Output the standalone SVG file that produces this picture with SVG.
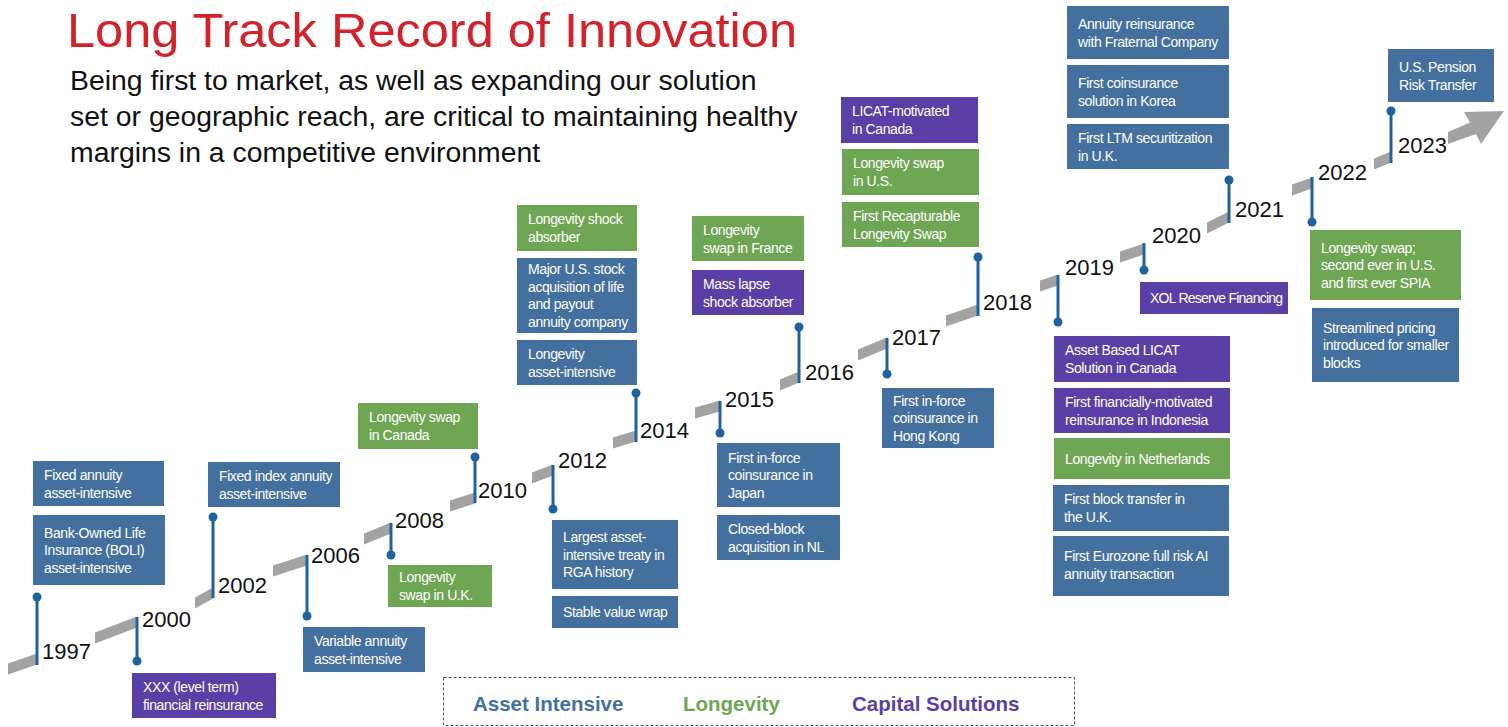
<svg xmlns="http://www.w3.org/2000/svg" width="1508" height="727" viewBox="0 0 1508 727">
<style>
.ba{fill:#44709f}
.gr{fill:#6fa654}
.pu{fill:#5a3fa6}
.bt{font-family:"Liberation Sans",Arial,sans-serif;font-size:14px;fill:#ffffff;letter-spacing:-0.4px}
.yr{font-family:"Liberation Sans",Arial,sans-serif;font-size:22px;fill:#111111}
.seg{fill:#a3a3a3}
.stem{stroke:#1f639e;stroke-width:3}
.dot{fill:#1f639e}
.lg{font-family:"Liberation Sans",Arial,sans-serif;font-size:20.5px;font-weight:bold}
</style>
<rect x="0" y="0" width="1508" height="727" fill="#ffffff"/>
<g id="title">
<text x="67" y="47" font-family="Liberation Sans, Arial, sans-serif" font-size="49" fill="#d3222a" textLength="730" lengthAdjust="spacingAndGlyphs">Long Track Record of Innovation</text>
<g font-family="Liberation Sans, Arial, sans-serif" font-size="28.4" fill="#111111">
<text x="70" y="90">Being first to market, as well as expanding our solution</text>
<text x="70" y="126">set or geographic reach, are critical to maintaining healthy</text>
<text x="70" y="162">margins in a competitive environment</text>
</g>
</g>
<g id="timeline">
<polygon class="seg" points="8,663.5 37,653.5 37,664.5 8,674.5"/>
<polygon class="seg" points="95,632.5 137,616.5 137,627.5 95,643.5"/>
<polygon class="seg" points="195,597.5 213,587.5 213,598.5 195,608.5"/>
<polygon class="seg" points="273,565.5 307,554.5 307,565.5 273,576.5"/>
<polygon class="seg" points="364,533.5 391,522.5 391,533.5 364,544.5"/>
<polygon class="seg" points="450,500.5 475,492.5 475,503.5 450,511.5"/>
<polygon class="seg" points="532,472.5 553,464.5 553,475.5 532,483.5"/>
<polygon class="seg" points="613,437.5 636,430.5 636,441.5 613,448.5"/>
<polygon class="seg" points="695,407.5 720,400.5 720,411.5 695,418.5"/>
<polygon class="seg" points="780,379.5 799,371.5 799,382.5 780,390.5"/>
<polygon class="seg" points="858,349.5 887,337.5 887,348.5 858,360.5"/>
<polygon class="seg" points="946,315.5 978,304.5 978,315.5 946,326.5"/>
<polygon class="seg" points="1040,280.5 1058,274.5 1058,285.5 1040,291.5"/>
<polygon class="seg" points="1120,251.5 1144,243.5 1144,254.5 1120,262.5"/>
<polygon class="seg" points="1207,222.5 1229,211.5 1229,222.5 1207,233.5"/>
<polygon class="seg" points="1292,184.5 1312,177.5 1312,188.5 1292,195.5"/>
<polygon class="seg" points="1374,158.5 1391,151.5 1391,162.5 1374,169.5"/>
<polygon class="seg" points="1448,132 1470,122.5 1464,112 1504,111 1481,144 1476,134 1448,144"/>
<text class="yr" x="42" y="659">1997</text>
<text class="yr" x="142" y="627">2000</text>
<text class="yr" x="218" y="593">2002</text>
<text class="yr" x="311" y="563">2006</text>
<text class="yr" x="395" y="528">2008</text>
<text class="yr" x="478" y="498">2010</text>
<text class="yr" x="558" y="468">2012</text>
<text class="yr" x="640" y="438">2014</text>
<text class="yr" x="725" y="407">2015</text>
<text class="yr" x="805" y="380">2016</text>
<text class="yr" x="892" y="345">2017</text>
<text class="yr" x="983" y="310">2018</text>
<text class="yr" x="1065" y="275">2019</text>
<text class="yr" x="1152" y="243">2020</text>
<text class="yr" x="1235" y="217">2021</text>
<text class="yr" x="1318" y="180">2022</text>
<text class="yr" x="1398" y="153">2023</text>
</g>
<g id="connectors">
<line class="stem" x1="37" y1="597" x2="37" y2="665"/><circle class="dot" cx="37" cy="597" r="4.5"/>
<line class="stem" x1="137" y1="617" x2="137" y2="661"/><circle class="dot" cx="137" cy="661" r="4.5"/>
<line class="stem" x1="213" y1="517" x2="213" y2="598"/><circle class="dot" cx="213" cy="517" r="4.5"/>
<line class="stem" x1="307" y1="555" x2="307" y2="616"/><circle class="dot" cx="307" cy="616" r="4.5"/>
<line class="stem" x1="391" y1="523" x2="391" y2="555"/><circle class="dot" cx="391" cy="555" r="4.5"/>
<line class="stem" x1="475" y1="457" x2="475" y2="503"/><circle class="dot" cx="475" cy="457" r="4.5"/>
<line class="stem" x1="553" y1="465" x2="553" y2="509"/><circle class="dot" cx="553" cy="509" r="4.5"/>
<line class="stem" x1="636" y1="393" x2="636" y2="442"/><circle class="dot" cx="636" cy="393" r="4.5"/>
<line class="stem" x1="720" y1="401" x2="720" y2="433"/><circle class="dot" cx="720" cy="433" r="4.5"/>
<line class="stem" x1="799" y1="327" x2="799" y2="383"/><circle class="dot" cx="799" cy="327" r="4.5"/>
<line class="stem" x1="887" y1="338" x2="887" y2="374"/><circle class="dot" cx="887" cy="374" r="4.5"/>
<line class="stem" x1="978" y1="257" x2="978" y2="316"/><circle class="dot" cx="978" cy="257" r="4.5"/>
<line class="stem" x1="1058" y1="275" x2="1058" y2="322"/><circle class="dot" cx="1058" cy="322" r="4.5"/>
<line class="stem" x1="1144" y1="243" x2="1144" y2="270"/><circle class="dot" cx="1144" cy="270" r="4.5"/>
<line class="stem" x1="1229" y1="180" x2="1229" y2="223"/><circle class="dot" cx="1229" cy="180" r="4.5"/>
<line class="stem" x1="1312" y1="177" x2="1312" y2="222"/><circle class="dot" cx="1312" cy="222" r="4.5"/>
<line class="stem" x1="1391" y1="111" x2="1391" y2="163"/><circle class="dot" cx="1391" cy="111" r="4.5"/>
</g>
<g id="n-fixed-annuity"><rect class="ba" x="33" y="461" width="131" height="45"/><text class="bt"><tspan x="44" y="480">Fixed annuity</tspan><tspan x="44" y="497.5">asset-intensive</tspan></text></g>
<g id="n-boli"><rect class="ba" x="33" y="515" width="132" height="70"/><text class="bt"><tspan x="44" y="537.5">Bank-Owned Life</tspan><tspan x="44" y="555">Insurance (BOLI)</tspan><tspan x="44" y="572.5">asset-intensive</tspan></text></g>
<g id="n-fixed-index"><rect class="ba" x="208" y="462" width="132" height="45"/><text class="bt"><tspan x="219" y="481">Fixed index annuity</tspan><tspan x="219" y="498.5">asset-intensive</tspan></text></g>
<g id="n-xxx"><rect class="pu" x="132" y="673" width="144" height="45"/><text class="bt"><tspan x="143" y="692">XXX (level term)</tspan><tspan x="143" y="709.5">financial reinsurance</tspan></text></g>
<g id="n-variable"><rect class="ba" x="303" y="627" width="122" height="45"/><text class="bt"><tspan x="314" y="646">Variable annuity</tspan><tspan x="314" y="663.5">asset-intensive</tspan></text></g>
<g id="n-longevity-uk"><rect class="gr" x="388" y="565" width="104" height="42"/><text class="bt"><tspan x="399" y="582.25">Longevity</tspan><tspan x="399" y="599.75">swap in U.K.</tspan></text></g>
<g id="n-longevity-canada"><rect class="gr" x="358" y="403" width="120" height="46"/><text class="bt"><tspan x="369" y="422.25">Longevity swap</tspan><tspan x="369" y="439.75">in Canada</tspan></text></g>
<g id="n-largest"><rect class="ba" x="552" y="520" width="126" height="69"/><text class="bt"><tspan x="563" y="542">Largest asset-</tspan><tspan x="563" y="559.5">intensive treaty in</tspan><tspan x="563" y="577">RGA history</tspan></text></g>
<g id="n-stable"><rect class="ba" x="552" y="596" width="126" height="32"/><text class="bt"><tspan x="563" y="617">Stable value wrap</tspan></text></g>
<g id="n-shock"><rect class="gr" x="517" y="205" width="120" height="46"/><text class="bt"><tspan x="528" y="224.25">Longevity shock</tspan><tspan x="528" y="241.75">absorber</tspan></text></g>
<g id="n-major"><rect class="ba" x="517" y="258" width="120" height="75"/><text class="bt"><tspan x="528" y="274.25">Major U.S. stock</tspan><tspan x="528" y="291.75">acquisition of life</tspan><tspan x="528" y="309.25">and payout</tspan><tspan x="528" y="326.75">annuity company</tspan></text></g>
<g id="n-longevity-ai"><rect class="ba" x="517" y="340" width="120" height="45"/><text class="bt"><tspan x="528" y="359">Longevity</tspan><tspan x="528" y="376.5">asset-intensive</tspan></text></g>
<g id="n-france"><rect class="gr" x="692" y="216" width="112" height="45"/><text class="bt"><tspan x="703" y="235">Longevity</tspan><tspan x="703" y="252.5">swap in France</tspan></text></g>
<g id="n-mass-lapse"><rect class="pu" x="692" y="270" width="112" height="45"/><text class="bt"><tspan x="703" y="289">Mass lapse</tspan><tspan x="703" y="306.5">shock absorber</tspan></text></g>
<g id="n-japan"><rect class="ba" x="717" y="443" width="123" height="64"/><text class="bt"><tspan x="728" y="462.5">First in-force</tspan><tspan x="728" y="480">coinsurance in</tspan><tspan x="728" y="497.5">Japan</tspan></text></g>
<g id="n-closed-block"><rect class="ba" x="717" y="515" width="123" height="45"/><text class="bt"><tspan x="728" y="534">Closed-block</tspan><tspan x="728" y="551.5">acquisition  in NL</tspan></text></g>
<g id="n-licat"><rect class="pu" x="841" y="97" width="137" height="46"/><text class="bt"><tspan x="852" y="116.25">LICAT-motivated</tspan><tspan x="852" y="133.75">in Canada</tspan></text></g>
<g id="n-swap-us"><rect class="gr" x="842" y="149" width="137" height="46"/><text class="bt"><tspan x="853" y="168.25">Longevity swap</tspan><tspan x="853" y="185.75">in U.S.</tspan></text></g>
<g id="n-recapturable"><rect class="gr" x="842" y="202" width="137" height="45"/><text class="bt"><tspan x="853" y="221">First Recapturable</tspan><tspan x="853" y="238.5">Longevity Swap</tspan></text></g>
<g id="n-hong-kong"><rect class="ba" x="882" y="388" width="112" height="60"/><text class="bt"><tspan x="893" y="405.5">First in-force</tspan><tspan x="893" y="423">coinsurance in</tspan><tspan x="893" y="440.5">Hong Kong</tspan></text></g>
<g id="n-asset-licat"><rect class="pu" x="1054" y="336" width="176" height="46"/><text class="bt"><tspan x="1065" y="355.25">Asset Based LICAT</tspan><tspan x="1065" y="372.75">Solution in Canada</tspan></text></g>
<g id="n-indonesia"><rect class="pu" x="1054" y="388" width="176" height="45"/><text class="bt"><tspan x="1065" y="407">First financially-motivated</tspan><tspan x="1065" y="424.5">reinsurance in Indonesia</tspan></text></g>
<g id="n-netherlands"><rect class="gr" x="1054" y="438" width="176" height="41"/><text class="bt"><tspan x="1065" y="463.5">Longevity in Netherlands</tspan></text></g>
<g id="n-block-uk"><rect class="ba" x="1053" y="485" width="176" height="46"/><text class="bt"><tspan x="1064" y="504.25">First block transfer in</tspan><tspan x="1064" y="521.75">the U.K.</tspan></text></g>
<g id="n-eurozone"><rect class="ba" x="1053" y="536" width="176" height="60"/><text class="bt"><tspan x="1064" y="561">First Eurozone full risk AI</tspan><tspan x="1064" y="579">annuity transaction</tspan></text></g>
<g id="n-xol"><rect class="pu" x="1140" y="282" width="148" height="32"/><text class="bt" style="letter-spacing:-0.75px"><tspan x="1150" y="303">XOL Reserve Financing</tspan></text></g>
<g id="n-fraternal"><rect class="ba" x="1067" y="6" width="162" height="53"/><text class="bt"><tspan x="1078" y="29">Annuity reinsurance</tspan><tspan x="1078" y="46.5">with Fraternal Company</tspan></text></g>
<g id="n-korea"><rect class="ba" x="1067" y="65" width="162" height="53"/><text class="bt"><tspan x="1078" y="88">First coinsurance</tspan><tspan x="1078" y="105.5">solution in Korea</tspan></text></g>
<g id="n-ltm"><rect class="ba" x="1067" y="124" width="162" height="45"/><text class="bt"><tspan x="1078" y="143">First LTM securitization</tspan><tspan x="1078" y="160.5">in U.K.</tspan></text></g>
<g id="n-pension"><rect class="ba" x="1388" y="49" width="106" height="53"/><text class="bt"><tspan x="1399" y="72">U.S. Pension</tspan><tspan x="1399" y="89.5">Risk Transfer</tspan></text></g>
<g id="n-spia"><rect class="gr" x="1310" y="230" width="151" height="70"/><text class="bt"><tspan x="1321" y="252.5">Longevity swap;</tspan><tspan x="1321" y="270">second ever in U.S.</tspan><tspan x="1321" y="287.5">and first ever SPIA</tspan></text></g>
<g id="n-streamlined"><rect class="ba" x="1312" y="308" width="147" height="74"/><text class="bt"><tspan x="1323" y="332.5">Streamlined pricing</tspan><tspan x="1323" y="350">introduced for smaller</tspan><tspan x="1323" y="367.5">blocks</tspan></text></g>
<g id="legend">
<rect x="443.5" y="677.5" width="631" height="48" fill="none" stroke="#555555" stroke-width="1" stroke-dasharray="3,2"/>
<text class="lg" x="473" y="711" fill="#44709f">Asset Intensive</text>
<text class="lg" x="683" y="711" fill="#6fa654">Longevity</text>
<text class="lg" x="852" y="711" fill="#5a3fa6">Capital Solutions</text>
</g>
</svg>
